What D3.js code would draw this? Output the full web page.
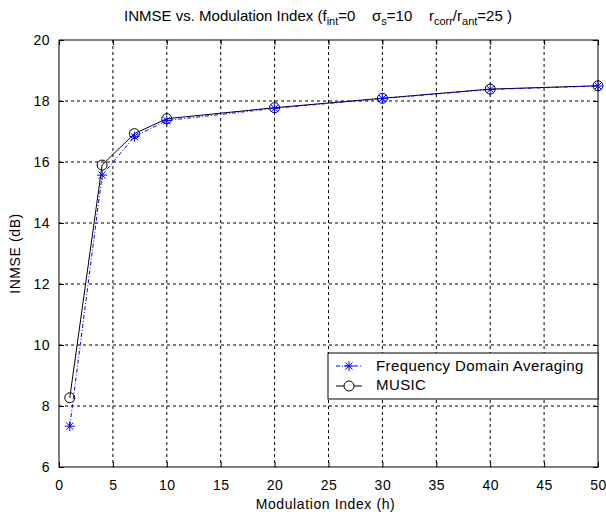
<html lang="en">
<head>
<meta charset="UTF-8">
<title>INMSE vs. Modulation Index</title>
<script src="https://cdn.jsdelivr.net/npm/d3@7"></script>
<style>
    body { margin: 0; padding: 0; background: #fff; }
    text { font-family: Arial, "Liberation Sans", sans-serif; font-size: 15px; fill: #000; }
</style>
</head>
<body>
<svg width="606" height="514"></svg>
<script>
var hValues = [1, 4, 7, 10, 20, 30, 40, 50]
var fdaValues = [7.34, 15.57, 16.83, 17.36, 17.76, 18.08, 18.38, 18.49]
var musicValues = [8.27, 15.9, 16.93, 17.42, 17.78, 18.09, 18.39, 18.5]
var xTicks = [0, 5, 10, 15, 20, 25, 30, 35, 40, 45, 50]
var yTicks = [6, 8, 10, 12, 14, 16, 18, 20]

var plotL = 59, plotR = 598, plotT = 40, plotB = 467

var svg = d3.select('svg')
var x = d3.scaleLinear().domain([0, 50]).range([plotL, plotR])
var y = d3.scaleLinear().domain([6, 20]).range([plotB, plotT])

// grid
var grid = svg.append('g')
grid.selectAll('.gx').data(xTicks.slice(1, -1)).enter().append('line')
    .attr('x1', d => x(d)).attr('x2', d => x(d))
    .attr('y1', plotT).attr('y2', plotB)
    .attr('stroke', '#000').attr('stroke-dasharray', '3,3').attr('stroke-width', 1)
grid.selectAll('.gy').data(yTicks.slice(1, -1)).enter().append('line')
    .attr('x1', plotL).attr('x2', plotR)
    .attr('y1', d => y(d)).attr('y2', d => y(d))
    .attr('stroke', '#000').attr('stroke-dasharray', '3,3').attr('stroke-width', 1)

// axes
svg.append('g').attr('transform', 'translate(0,' + plotB + ')')
    .call(d3.axisBottom(x).tickValues(xTicks).tickSize(-5).tickPadding(13).tickFormat(d3.format('d')))
svg.append('g').attr('transform', 'translate(0,' + plotT + ')')
    .call(d3.axisTop(x).tickValues(xTicks).tickSize(-5).tickFormat(''))
svg.append('g').attr('transform', 'translate(' + plotL + ',0)')
    .call(d3.axisLeft(y).tickValues(yTicks).tickSize(-5).tickPadding(9).tickFormat(d3.format('d')))
svg.append('g').attr('transform', 'translate(' + plotR + ',0)')
    .call(d3.axisRight(y).tickValues(yTicks).tickSize(-5).tickFormat(''))
svg.selectAll('.domain').remove()
svg.selectAll('.tick text').style('font-size', '14px').style('letter-spacing', '0.5px')
    .style('font-family', 'Arial, "Liberation Sans", sans-serif')
svg.selectAll('.tick line').attr('stroke', '#000')

svg.append('rect').attr('x', plotL).attr('y', plotT)
    .attr('width', plotR - plotL).attr('height', plotB - plotT)
    .attr('fill', 'none').attr('stroke', '#000')

// lines
var line = d3.line().x(d => x(d[0])).y(d => y(d[1]))
var music = hValues.map((h, i) => [h, musicValues[i]])
var fda = hValues.map((h, i) => [h, fdaValues[i]])

svg.append('path').datum(music).attr('d', line)
    .attr('fill', 'none').attr('stroke', '#000').attr('stroke-width', 1)
svg.selectAll('.mk').data(music).enter().append('circle')
    .attr('cx', d => x(d[0])).attr('cy', d => y(d[1])).attr('r', 5)
    .attr('fill', 'none').attr('stroke', '#000')

svg.append('path').datum(fda).attr('d', line)
    .attr('fill', 'none').attr('stroke', '#0000ff').attr('stroke-width', 1)
    .attr('stroke-dasharray', '4,2,1,2')

var star = function (g, cx, cy) {
    var r = 5
    var p = ''
    for (var k = 0; k < 4; k++) {
        var a = k * Math.PI / 4
        p += 'M' + (cx - r * Math.cos(a)) + ',' + (cy - r * Math.sin(a)) +
             'L' + (cx + r * Math.cos(a)) + ',' + (cy + r * Math.sin(a))
    }
    g.append('path').attr('d', p).attr('stroke', '#0000ff').attr('fill', 'none')
}
fda.forEach(d => star(svg, x(d[0]), y(d[1])))

// legend
var lg = svg.append('g')
lg.append('rect').attr('x', 328).attr('y', 353).attr('width', plotR - 328).attr('height', 46)
    .attr('fill', '#fff').attr('stroke', '#000')
lg.append('line').attr('x1', 336).attr('x2', 362).attr('y1', 366).attr('y2', 366)
    .attr('stroke', '#0000ff').attr('stroke-dasharray', '4,2,1,2')
star(lg, 349, 366)
lg.append('text').attr('x', 376).attr('y', 371).style('letter-spacing', '0.4px').text('Frequency Domain Averaging')
lg.append('line').attr('x1', 336).attr('x2', 362).attr('y1', 386).attr('y2', 386)
    .attr('stroke', '#000')
lg.append('circle').attr('cx', 349).attr('cy', 386).attr('r', 5).attr('fill', '#fff').attr('stroke', '#000')
lg.append('text').attr('x', 376).attr('y', 390).style('letter-spacing', '0.4px').text('MUSIC')

// labels
svg.append('text').attr('x', (plotL + plotR) / 2 - 3).attr('y', 509)
    .attr('text-anchor', 'middle').style('font-size', '14px').style('letter-spacing', '0.6px')
    .text('Modulation Index (h)')
svg.append('text').attr('transform', 'translate(20,' + (plotT + plotB) / 2 + ') rotate(-90)')
    .attr('text-anchor', 'middle').style('font-size', '14px').style('letter-spacing', '0.6px')
    .text('INMSE (dB)')

var title = svg.append('text').attr('x', 318).attr('y', 21)
    .attr('text-anchor', 'middle').style('white-space', 'pre')
title.append('tspan').text('INMSE vs. Modulation Index (f')
title.append('tspan').attr('dy', 4).style('font-size', '11px').text('int')
title.append('tspan').attr('dy', -4).text('=0    \u03c3')
title.append('tspan').attr('dy', 4).style('font-size', '11px').text('s')
title.append('tspan').attr('dy', -4).text('=10    r')
title.append('tspan').attr('dy', 4).style('font-size', '11px').text('corr')
title.append('tspan').attr('dy', -4).text('/r')
title.append('tspan').attr('dy', 4).style('font-size', '11px').text('ant')
title.append('tspan').attr('dy', -4).text('=25 )')
</script>
</body>
</html>
